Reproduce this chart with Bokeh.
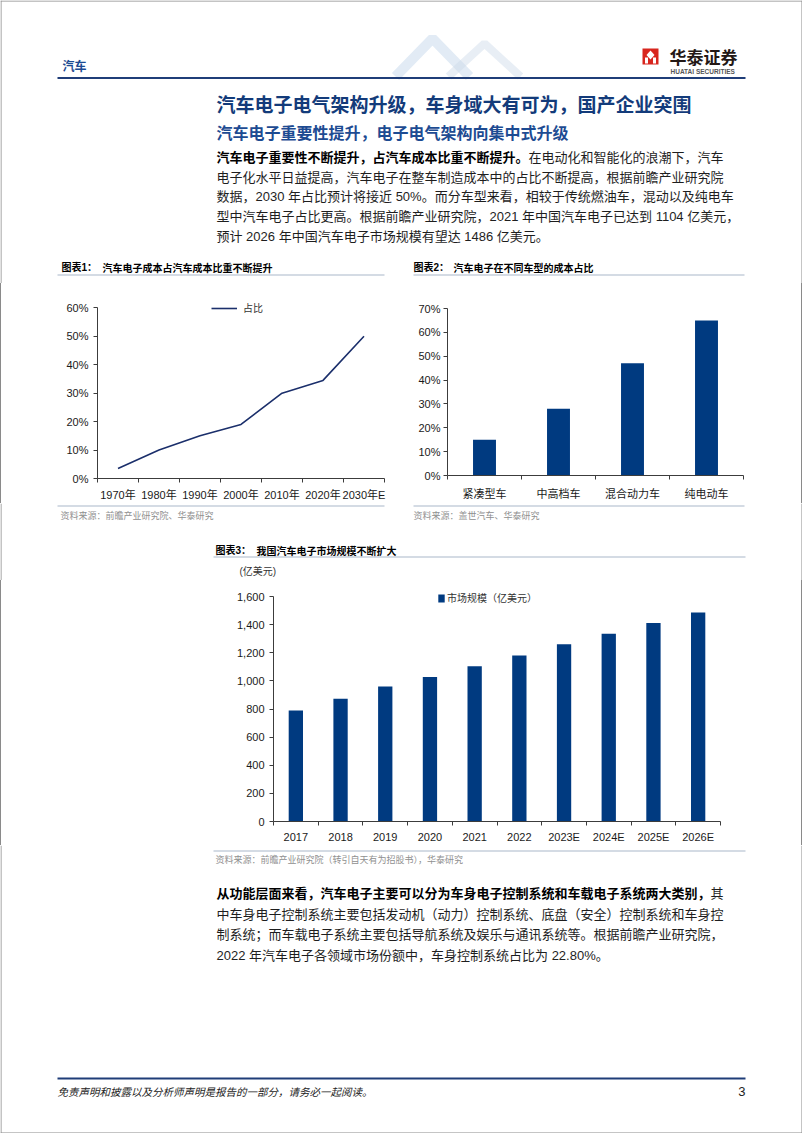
import numpy as np
from bokeh.plotting import figure
from bokeh.layouts import column, row
from bokeh.models import Range1d, FixedTicker, NumeralTickFormatter, Legend, LegendItem, Spacer
from bokeh.core.properties import value
from bokeh.embed import file_html
from bokeh.resources import INLINE

# ---------------- data ----------------
chart1_years = ["1970年", "1980年", "1990年", "2000年", "2010年", "2020年", "2030年E"]
chart1_share = [0.035, 0.10, 0.15, 0.19, 0.30, 0.345, 0.50]
chart1_yticks = [0.0, 0.1, 0.2, 0.3, 0.4, 0.5, 0.6]
chart1_series = "占比"

chart2_types = ["紧凑型车", "中高档车", "混合动力车", "纯电动车"]
chart2_share = [0.15, 0.28, 0.47, 0.65]
chart2_yticks = [0.0, 0.1, 0.2, 0.3, 0.4, 0.5, 0.6, 0.7]

chart3_years = ["2017", "2018", "2019", "2020", "2021", "2022", "2023E", "2024E", "2025E", "2026E"]
chart3_size = [790, 873, 960, 1028, 1104, 1181, 1261, 1336, 1412, 1486]
chart3_yticks = [0, 200, 400, 600, 800, 1000, 1200, 1400, 1600]
chart3_series = "市场规模（亿美元）"
chart3_unit = "(亿美元)"

# ---------------- page texts ----------------
header_section = "汽车"
logo_cn = "华泰证券"
logo_en = "HUATAI SECURITIES"
title_text = "汽车电子电气架构升级，车身域大有可为，国产企业突围"
subtitle_text = "汽车电子重要性提升，电子电气架构向集中式升级"
para1 = [
    ("汽车电子重要性不断提升，占汽车成本比重不断提升。", "在电动化和智能化的浪潮下，汽车"),
    ("", "电子化水平日益提高，汽车电子在整车制造成本中的占比不断提高，根据前瞻产业研究院"),
    ("", "数据，2030 年占比预计将接近 50%。而分车型来看，相较于传统燃油车，混动以及纯电车"),
    ("", "型中汽车电子占比更高。根据前瞻产业研究院，2021 年中国汽车电子已达到 1104 亿美元，"),
    ("", "预计 2026 年中国汽车电子市场规模有望达 1486 亿美元。"),
]
chart1_label, chart1_title = "图表1：", "汽车电子成本占汽车成本比重不断提升"
chart2_label, chart2_title = "图表2：", "汽车电子在不同车型的成本占比"
chart3_label, chart3_title = "图表3：", "我国汽车电子市场规模不断扩大"
chart1_source = "资料来源：前瞻产业研究院、华泰研究"
chart2_source = "资料来源：盖世汽车、华泰研究"
chart3_source = "资料来源：前瞻产业研究院（转引自天有为招股书），华泰研究"
para2 = [
    ("从功能层面来看，汽车电子主要可以分为车身电子控制系统和车载电子系统两大类别，", "其"),
    ("", "中车身电子控制系统主要包括发动机（动力）控制系统、底盘（安全）控制系统和车身控"),
    ("", "制系统；而车载电子系统主要包括导航系统及娱乐与通讯系统等。根据前瞻产业研究院，"),
    ("", "2022 年汽车电子各领域市场份额中，车身控制系统占比为 22.80%。"),
]
footer_text = "免责声明和披露以及分析师声明是报告的一部分，请务必一起阅读。"
page_no = "3"

# ---------------- styles ----------------
W = 802
CJK = "Noto Sans CJK SC"
MIX = "Liberation Sans, Noto Sans CJK SC"
NAVY_BAR = "#003A80"
NAVY_LINE = "#1B2F6B"
TITLE_BLUE = "#133B7A"
SUB_BLUE = "#1D4B92"
RULE = "#A9B7C9"
AXIS = "#3C3C3C"
BODY = "#1E1E1E"
GREY = "#8F8F8F"
EDGE = "#8A8A8A"
BODY_PX = 13


def canvas(y0, y1):
    h = y1 - y0
    p = figure(width=W, height=h, x_range=Range1d(0, W), y_range=Range1d(y1, y0),
               title=None, output_backend="svg", toolbar_location=None, min_border=0,
               x_axis_location=None, y_axis_location=None)
    p.xgrid.grid_line_color = None
    p.ygrid.grid_line_color = None
    p.outline_line_color = None
    p.background_fill_color = "white"
    p.border_fill_color = "white"
    return p


def txt(p, x, y, s, size, color=BODY, font=CJK, style="normal", align="left", baseline="middle"):
    p.text(x=[x], y=[y], text=[s], text_font=value(font), text_font_size=f"{size}px",
           text_color=color, text_font_style=style, text_align=align, text_baseline=baseline)


def hline(p, x0, x1, y, color=RULE, width=1):
    p.segment(x0=[x0], y0=[y], x1=[x1], y1=[y], line_color=color, line_width=width)


def vborder(p, y0, y1):
    p.segment(x0=[0.5, W - 0.5], y0=[y0, y0], x1=[0.5, W - 0.5], y1=[y1, y1],
              line_color=EDGE, line_width=1)


def edge(h):
    return Spacer(width=1, height=h, styles={"background-color": EDGE})


def chart_fig(width, height, xr, yr, left, right, top, bottom):
    p = figure(width=width, height=height, x_range=xr, y_range=yr, title=None,
               output_backend="svg", toolbar_location=None,
               min_border_left=left, min_border_right=right,
               min_border_top=top, min_border_bottom=bottom)
    p.xgrid.grid_line_color = None
    p.ygrid.grid_line_color = None
    p.outline_line_color = None
    p.background_fill_color = "white"
    p.border_fill_color = "white"
    return p


def style_axes(p, labels, xfont, xstand, yticks, yfmt, ystand):
    n = len(labels)
    centers = [float(i) + 0.5 for i in range(n)]
    xa = p.xaxis[0]
    xa.ticker = FixedTicker(ticks=centers, minor_ticks=[float(i) for i in range(n + 1)])
    xa.major_label_overrides = {c: l for c, l in zip(centers, labels)}
    xa.major_tick_line_color = None
    xa.major_tick_in = 0
    xa.major_tick_out = 0
    xa.minor_tick_in = 0
    xa.minor_tick_out = 4
    xa.minor_tick_line_color = AXIS
    xa.axis_line_color = AXIS
    xa.major_label_standoff = xstand
    xa.major_label_text_font = xfont
    xa.major_label_text_font_size = "11px"
    xa.major_label_text_color = "#1A1A1A"
    ya = p.yaxis[0]
    ya.ticker = FixedTicker(ticks=yticks)
    ya.formatter = NumeralTickFormatter(format=yfmt)
    ya.bounds = (yticks[0], yticks[-1])
    ya.major_tick_in = 0
    ya.major_tick_out = 4
    ya.major_tick_line_color = AXIS
    ya.minor_tick_line_color = None
    ya.axis_line_color = AXIS
    ya.major_label_standoff = ystand
    ya.major_label_text_font = "Liberation Sans"
    ya.major_label_text_font_size = "11px"
    ya.major_label_text_color = "#1A1A1A"
    return centers


# ================= A: header + intro (0..283) =================
A = canvas(0, 283)
# decorative chevrons
A.line(x=[395, 432, 469], y=[76, 38, 76], line_width=10, line_color="#BFD2E8", line_alpha=0.45)
A.line(x=[448, 484, 520], y=[76, 43, 76], line_width=8, line_color="#CCD9E8", line_alpha=0.45)
txt(A, 62, 65, header_section, 12, color=SUB_BLUE, style="bold")
# logo
A.quad(left=[642], right=[658], top=[48], bottom=[64], fill_color="#D8261E", line_color=None)
A.patch(x=[650, 654, 650, 646], y=[50, 54.5, 59, 54.5], fill_color="white", line_color=None)
A.quad(left=[644.5, 652.5], right=[647.5, 655.5], top=[57, 57], bottom=[63, 63],
       fill_color="white", line_color=None)
txt(A, 669, 56, logo_cn, 17, color="#231815", style="bold")
txt(A, 670, 70.5, logo_en, 6.5, color="#555555", font="Liberation Sans", style="bold")
hline(A, 57, 745, 77.5, color="#1F3D78", width=2)
# titles
txt(A, 216, 103, title_text, 19, color=TITLE_BLUE, style="bold")
txt(A, 216, 131, subtitle_text, 16, color=SUB_BLUE, style="bold")
for i, (b, n) in enumerate(para1):
    y = 157 + i * 19.7
    x = 216
    if b:
        txt(A, x, y, b, BODY_PX, color="#000000", font=MIX, style="bold")
        x += len(b) * BODY_PX
    txt(A, x, y, n, BODY_PX, color=BODY, font=MIX)
# chart titles
txt(A, 61, 267, chart1_label, 10, color="#000000", font=MIX, style="bold")
txt(A, 102, 267, chart1_title, 10, color="#000000", style="bold")
txt(A, 413, 267, chart2_label, 10, color="#000000", font=MIX, style="bold")
txt(A, 453, 267, chart2_title, 10, color="#000000", style="bold")
hline(A, 57, 384, 274.5)
hline(A, 413, 744, 274.5)
vborder(A, 0, 283)
hline(A, 0, W, 0.5, color=EDGE)

# ================= chart 1 (283..503, x 1..402) =================
c1 = chart_fig(401, 220, Range1d(0, len(chart1_years)), Range1d(0, 0.64), 96, 18, 13, 22)
x1 = style_axes(c1, chart1_years, MIX, 6, chart1_yticks, "0%", 5)
r1 = c1.line(x=x1, y=chart1_share, line_color=NAVY_LINE, line_width=1.6)
leg1 = Legend(items=[LegendItem(label=chart1_series, renderers=[r1])], location=(114, 163),
              orientation="horizontal", padding=0, margin=0, spacing=0,
              border_line_color=None, background_fill_alpha=0,
              glyph_width=26, glyph_height=12, label_height=12, label_standoff=6,
              label_text_font=CJK, label_text_font_size="10px", label_text_color="#333333")
c1.add_layout(leg1)

# ================= chart 2 (283..503, x 402..801) =================
c2 = chart_fig(399, 220, Range1d(0, len(chart2_types)), Range1d(0, 0.7), 45, 58, 25, 23)
x2 = style_axes(c2, chart2_types, CJK, 5, chart2_yticks, "0%", 3)
c2.vbar(x=x2, top=chart2_share, width=0.31, fill_color=NAVY_BAR, line_color=None)

# ================= C: sources + chart 3 heading (503..580) =================
C = canvas(503, 580)
hline(C, 57, 384, 505.5)
hline(C, 413, 744, 505.5)
txt(C, 60, 514.5, chart1_source, 9, color=GREY)
txt(C, 413, 514.5, chart2_source, 9, color=GREY)
txt(C, 215, 549.5, chart3_label, 10, color="#000000", font=MIX, style="bold")
txt(C, 256, 549.5, chart3_title, 10, color="#000000", style="bold")
hline(C, 213, 745, 556.5)
txt(C, 239, 571, chart3_unit, 10, color="#333333", font=MIX)
vborder(C, 503, 580)

# ================= chart 3 (580..845, x 1..801) =================
c3 = chart_fig(W - 2, 265, Range1d(0, len(chart3_years)), Range1d(0, 1700), 272, 81, 2, 23)
x3 = style_axes(c3, chart3_years, "Liberation Sans", 5, chart3_yticks, "0,0", 5)
r3 = c3.vbar(x=x3, top=chart3_size, width=0.32, fill_color=NAVY_BAR, line_color=None)
leg3 = Legend(items=[LegendItem(label=chart3_series, renderers=[r3])], location=(164, 216),
              orientation="horizontal", padding=0, margin=0, spacing=0,
              border_line_color=None, background_fill_alpha=0,
              glyph_width=8, glyph_height=10, label_height=10, label_standoff=2,
              label_text_font=CJK, label_text_font_size="10px", label_text_color="#333333")
c3.add_layout(leg3)

# ================= E: source, text, footer (845..1133) =================
E = canvas(845, 1133)
hline(E, 213, 745, 850.5)
txt(E, 215, 858.5, chart3_source, 9, color=GREY)
for i, (b, n) in enumerate(para2):
    y = 893 + i * 20.5
    x = 216
    if b:
        txt(E, x, y, b, BODY_PX, color="#000000", font=MIX, style="bold")
        x += len(b) * BODY_PX
    txt(E, x, y, n, BODY_PX, color=BODY, font=MIX)
hline(E, 57, 745, 1078, color="#1F3D78", width=2)
txt(E, 57, 1091, footer_text, 10.5, color="#222222", style="italic")
txt(E, 745, 1091, page_no, 13, color="#222222", font="Liberation Sans", align="right")
vborder(E, 845, 1133)
hline(E, 0, W, 1132.5, color=EDGE)

page = column(row(A),
              row(edge(220), column(c1), column(c2), edge(220)),
              row(C),
              row(edge(265), column(c3), edge(265)),
              row(E))

open("out.html", "w").write(file_html(page, INLINE))
